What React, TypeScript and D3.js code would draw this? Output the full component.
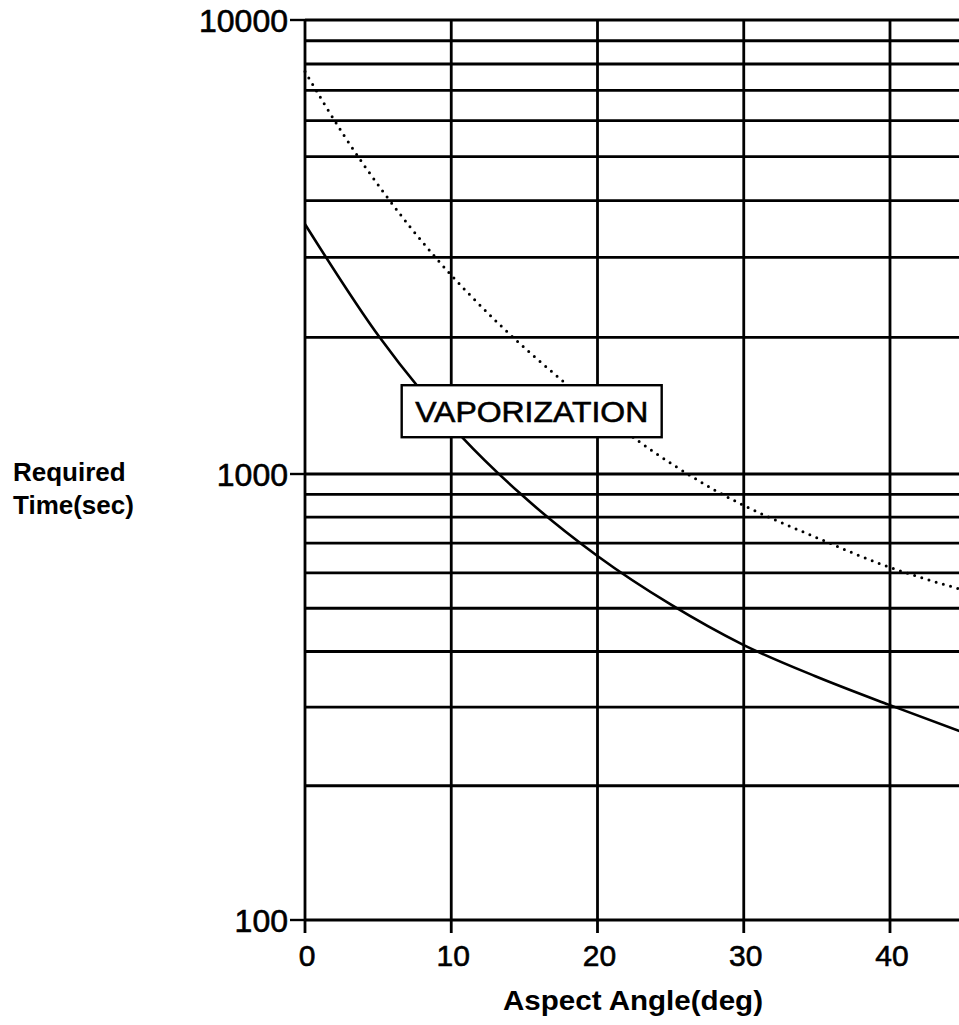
import React from "react";
import * as d3 from "d3";

// Axis ticks and grid values
const xTicks = [0, 10, 20, 30, 40];
const yLabelTicks = [100, 1000, 10000];
const yGrid = [
  100, 200, 300, 400, 500, 600, 700, 800, 900,
  1000, 2000, 3000, 4000, 5000, 6000, 7000, 8000, 9000, 10000,
];

// Solid curve
const solidAngles = [0, 5.1, 10.8, 14.7, 20, 25, 29.9, 34.9, 39.9, 44.8];
const solidTimes = [3550, 2000, 1200, 905, 655, 510, 415, 352, 304, 265];

// Dotted curve
const dottedAngles = [0, 2.6, 5.4, 8.9, 13.2, 17.8, 22.7, 28.0, 35.6, 39.5, 44.7];
const dottedTimes = [7700, 5610, 4160, 3006, 2150, 1585, 1188, 921, 706, 626, 553];

// Annotation
const annotationText = "VAPORIZATION";
const annotationAngle = 15.5;
const annotationTime = 1375;

const FONT = "'Liberation Sans', Arial, Helvetica, sans-serif";

export default function App() {
  const W = 959;
  const H = 1025;
  const x = d3.scaleLinear().domain([0, 40]).range([305, 890]);
  const y = d3.scaleLog().domain([100, 1000, 10000]).range([920, 474, 20]);
  const x0 = x(0);
  const yTop = y(10000);
  const yBot = y(100);

  const line = d3
    .line<[number, number]>()
    .x((d) => x(d[0]))
    .y((d) => y(d[1]))
    .curve(d3.curveMonotoneX);

  const solidData: [number, number][] = solidAngles.map((a, i) => [a, solidTimes[i]]);
  const dottedData: [number, number][] = dottedAngles.map((a, i) => [a, dottedTimes[i]]);

  const ax = x(annotationAngle);
  const ay = y(annotationTime);
  const bw = 260;
  const bh = 52;

  return (
    <svg
      width={W}
      height={H}
      style={{ position: "absolute", left: 0, top: 0, background: "#fff" }}
    >
      <defs>
        <clipPath id="plot">
          <rect x={x0 - 2} y={yTop - 3} width={W - x0 + 2} height={yBot - yTop + 6} />
        </clipPath>
      </defs>
      <rect x={0} y={0} width={W} height={H} fill="#fff" />
      {/* horizontal grid */}
      {yGrid.map((v) => (
        <line
          key={"h" + v}
          x1={x0}
          x2={W}
          y1={y(v)}
          y2={y(v)}
          stroke="#000"
          strokeWidth={2.8}
        />
      ))}
      {/* left tick stubs */}
      {yLabelTicks.map((v) => (
        <line
          key={"t" + v}
          x1={290}
          x2={x0}
          y1={y(v)}
          y2={y(v)}
          stroke="#000"
          strokeWidth={2.4}
        />
      ))}
      {/* vertical grid */}
      {xTicks.map((t) => (
        <line
          key={"v" + t}
          x1={x(t)}
          x2={x(t)}
          y1={yTop}
          y2={yBot + 13}
          stroke="#000"
          strokeWidth={2.8}
        />
      ))}
      {/* curves */}
      <g clipPath="url(#plot)">
        <path d={line(solidData) || ""} fill="none" stroke="#000" strokeWidth={2.6} />
        <path
          d={line(dottedData) || ""}
          fill="none"
          stroke="#000"
          strokeWidth={3}
          strokeLinecap="round"
          strokeDasharray="0 7.5"
        />
      </g>
      {/* annotation box */}
      <rect
        x={ax - bw / 2}
        y={ay - bh / 2}
        width={bw}
        height={bh}
        fill="#fff"
        stroke="#000"
        strokeWidth={2.4}
      />
      <text
        x={ax}
        y={ay + 11}
        textAnchor="middle"
        fontFamily={FONT}
        fontSize={30}
        stroke="#000"
        strokeWidth={0.6}
        textLength={233}
        lengthAdjust="spacingAndGlyphs"
      >
        {annotationText}
      </text>
      {/* y tick labels */}
      {yLabelTicks.map((v) => (
        <text
          key={"yl" + v}
          x={288}
          y={y(v) + 12}
          textAnchor="end"
          fontFamily={FONT}
          fontSize={32}
          stroke="#000"
          strokeWidth={0.6}
        >
          {String(v)}
        </text>
      ))}
      {/* x tick labels */}
      {xTicks.map((t) => (
        <text
          key={"xl" + t}
          x={x(t) + 2}
          y={966}
          textAnchor="middle"
          fontFamily={FONT}
          fontSize={30}
          stroke="#000"
          strokeWidth={0.6}
        >
          {String(t)}
        </text>
      ))}
      {/* axis titles */}
      <text x={13} y={481} fontFamily={FONT} fontSize={26} fontWeight="bold">
        Required
      </text>
      <text x={13} y={514} fontFamily={FONT} fontSize={26} fontWeight="bold">
        Time(sec)
      </text>
      <text
        x={633}
        y={1010}
        textAnchor="middle"
        fontFamily={FONT}
        fontSize={27}
        fontWeight="bold"
        textLength={260}
        lengthAdjust="spacingAndGlyphs"
      >
        Aspect Angle(deg)
      </text>
    </svg>
  );
}
